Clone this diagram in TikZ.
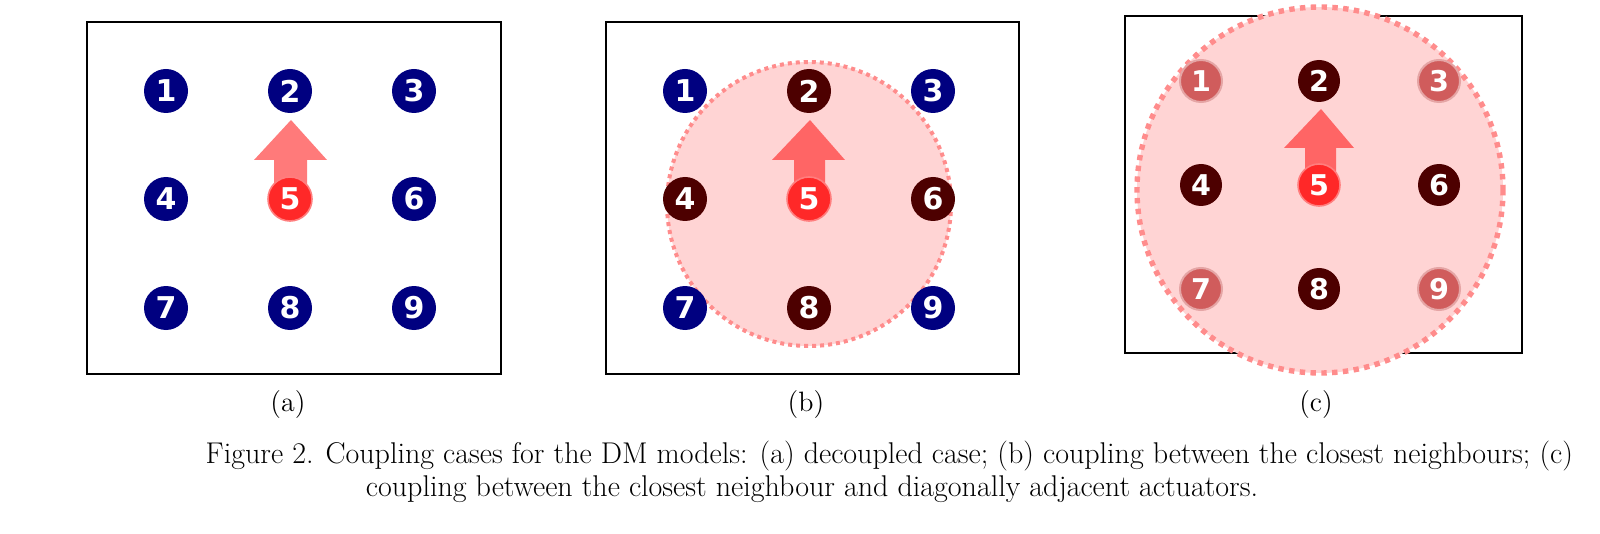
\documentclass[tikz,border=0pt]{standalone}
\usepackage{fontspec}
\newfontfamily\digitfont{DejaVu Sans}
\definecolor{navyc}{RGB}{0,0,128}
\definecolor{darkc}{RGB}{77,0,0}
\definecolor{diagc}{RGB}{208,92,92}
\definecolor{redc}{RGB}{255,40,40}
\begin{document}
\begin{tikzpicture}[x=0.5pt,y=-0.5pt,
  act/.style={circle, minimum size=22pt, inner sep=0pt, text=white,
    font=\digitfont\bfseries\fontsize{15}{15}\selectfont},
  actc/.style={act, minimum size=21pt, font=\digitfont\bfseries\fontsize{14.3}{14.3}\selectfont},
  navy/.style={fill=navyc},
  dark/.style={fill=darkc},
  diag/.style={fill=diagc, draw=diagc!55, line width=1pt},
  mid/.style={fill=redc, draw=redc!60, line width=0.8pt},
  boxline/.style={draw=black, line width=0.8pt},
  zone/.style={fill=red!17, draw=red!45, line width=2pt, dash pattern=on 2pt off 2pt},
  zonec/.style={fill=red!17, draw=red!45, line width=2.7pt, dash pattern=on 2.7pt off 2.7pt},
  push/.style={fill=red, fill opacity=0.52},
  sublabel/.style={font=\fontsize{14}{16}\selectfont},
  captext/.style={font=\fontsize{15}{18}\selectfont}]
\useasboundingbox (0,0) rectangle (1600,534);
% ---------- panel (a)
\draw[boxline] (87,22) rectangle (501,374);
\fill[push] (274,199) -- (274,160) -- (254,160) -- (291,120) -- (327,160) -- (307,160) -- (307,199) -- cycle;
\node[act,navy] (a1) at (166,91) {1};
\node[act,navy] (a2) at (290,91) {2};
\node[act,navy] (a3) at (414,91) {3};
\node[act,navy] (a4) at (166,199) {4};
\node[act,mid]  (a5) at (290,199) {5};
\node[act,navy] (a6) at (414,199) {6};
\node[act,navy] (a7) at (166,308) {7};
\node[act,navy] (a8) at (290,308) {8};
\node[act,navy] (a9) at (414,308) {9};
\node[sublabel] (la) at (288,405) {(a)};
% ---------- panel (b)
\draw[boxline] (606,22) rectangle (1019,374);
\path[zone] (809,204) circle (142);
\fill[push] (794,199) -- (794,160) -- (772,160) -- (810,120) -- (845,160) -- (825,160) -- (825,199) -- cycle;
\node[act,navy] (b1) at (685,91) {1};
\node[act,dark] (b2) at (809,91) {2};
\node[act,navy] (b3) at (933,91) {3};
\node[act,dark] (b4) at (685,199) {4};
\node[act,mid]  (b5) at (809,199) {5};
\node[act,dark] (b6) at (933,199) {6};
\node[act,navy] (b7) at (685,308) {7};
\node[act,dark] (b8) at (809,308) {8};
\node[act,navy] (b9) at (933,308) {9};
\node[sublabel] (lb) at (806,405) {(b)};
% ---------- panel (c)
\draw[boxline] (1125,16) rectangle (1522,353);
\path[zonec] (1320,190) circle (183);
\fill[push] (1305,185) -- (1305,148) -- (1284,148) -- (1321,109) -- (1354,148) -- (1336,148) -- (1336,185) -- cycle;
\node[actc,diag] (c1) at (1201,81) {1};
\node[actc,dark] (c2) at (1319,81) {2};
\node[actc,diag] (c3) at (1439,81) {3};
\node[actc,dark] (c4) at (1201,185) {4};
\node[actc,mid]  (c5) at (1319,185) {5};
\node[actc,dark] (c6) at (1439,185) {6};
\node[actc,diag] (c7) at (1201,289) {7};
\node[actc,dark] (c8) at (1319,289) {8};
\node[actc,diag] (c9) at (1439,289) {9};
\node[sublabel] (lc) at (1316,405) {(c)};
% ---------- caption
\node[captext, anchor=base east] (cap1) at (1580,463) {Figure 2. Coupling cases for the DM models: (a) decoupled case; (b) coupling between the closest neighbours; (c)};
\node[captext, anchor=base] (cap2) at (812,496) {coupling between the closest neighbour and diagonally adjacent actuators.};
\end{tikzpicture}
\end{document}
